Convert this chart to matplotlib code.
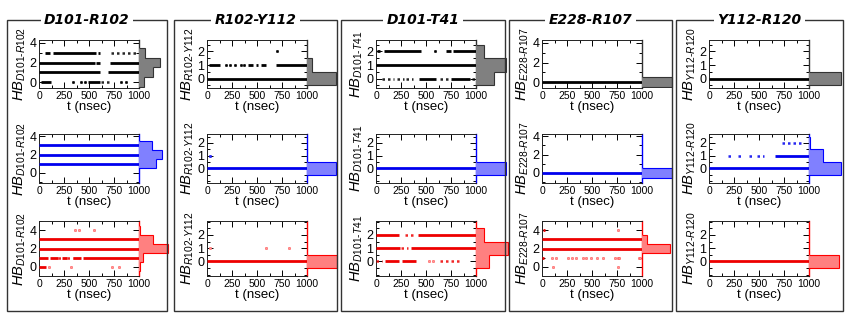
import matplotlib
matplotlib.use('Agg')
import matplotlib.pyplot as plt
from matplotlib.patches import Rectangle
from matplotlib.ticker import MultipleLocator

plt.rcParams['font.family'] = ['Liberation Sans', 'DejaVu Sans']
plt.rcParams['mathtext.fontset'] = 'custom'
plt.rcParams['mathtext.rm'] = 'Liberation Sans'
plt.rcParams['mathtext.it'] = 'Liberation Sans:italic'
plt.rcParams['mathtext.bf'] = 'Liberation Sans:bold'

# ---------------- data ----------------
pairs = ['D101-R102', 'R102-Y112', 'D101-T41', 'E228-R107', 'Y112-R120']
ytick_max = [4, 2, 2, 4, 2]
t_ticks = [0, 250, 500, 750, 1000]

# each panel: solid occupancy intervals (HB, t0, t1), sparse intervals, isolated points (t, HB),
# histogram of HB counts {HB: relative frequency}
D101_R102_black = dict(
    solid=[(3, 57, 107), (3, 140, 573), (3, 590, 610), (2, 0, 557), (2, 573, 607), (2, 707, 1000),
           (1, 0, 607), (1, 690, 1000), (0, 23, 123), (0, 490, 607)],
    sparse=[(3, 723, 990), (0, 620, 707)],
    points=[(340, 0), (423, 0), (460, 0), (823, 0), (873, 0)],
    hist={0: 0.17, 1: 0.47, 2: 0.70, 3: 0.20})
D101_R102_blue = dict(
    solid=[(1, 0, 1000), (2, 0, 1000), (3, 0, 1000)],
    sparse=[], points=[],
    hist={1: 0.57, 2: 0.77, 3: 0.43})
D101_R102_red = dict(
    solid=[(3, 0, 1000), (2, 0, 1000), (1, 0, 90), (1, 110, 190), (1, 230, 280), (1, 340, 420),
           (1, 440, 1000), (0, 0, 68)],
    sparse=[(1, 190, 230), (1, 280, 340)],
    points=[(356, 4), (400, 4), (553, 4), (100, 0), (315, 0), (729, 0), (797, 0)],
    hist={0: 0.03, 1: 0.13, 2: 0.97, 3: 0.47, 4: 0.03})

R102_Y112_black = dict(
    solid=[(0, 0, 1000), (1, 20, 127), (1, 410, 460), (1, 493, 510), (1, 543, 593), (1, 687, 1000)],
    sparse=[],
    points=[(193, 1), (227, 1), (277, 1), (343, 1), (367, 1), (700, 2)],
    hist={0: 0.97, 1: 0.15})
R102_Y112_blue = dict(
    solid=[(0, 0, 1000)], sparse=[], points=[(33, 1)],
    hist={0: 0.97})
R102_Y112_red = dict(
    solid=[(0, 0, 1000)], sparse=[], points=[(33, 1), (585, 1), (815, 1)],
    hist={0: 1.0})

D101_T41_black = dict(
    solid=[(2, 10, 44), (2, 78, 450), (2, 703, 750), (2, 765, 1000), (1, 0, 1000),
           (0, 432, 601), (0, 753, 939)],
    sparse=[(0, 61, 179), (0, 213, 280), (0, 297, 365), (0, 635, 736), (0, 955, 1000)],
    points=[(585, 2)],
    hist={0: 0.60, 1: 1.0, 2: 0.27})
D101_T41_blue = dict(
    solid=[(0, 0, 1000)], sparse=[], points=[],
    hist={0: 1.0})
D101_T41_red = dict(
    solid=[(2, 0, 230), (2, 415, 1000), (1, 0, 236), (1, 348, 1000), (0, 90, 230), (0, 263, 399)],
    sparse=[(2, 290, 400), (1, 250, 320), (0, 0, 60), (0, 635, 736), (0, 753, 855)],
    points=[(534, 0), (567, 0)],
    hist={0: 0.43, 1: 1.07, 2: 0.27})

E228_R107_black = dict(
    solid=[(0, 0, 1000)], sparse=[], points=[],
    hist={0: 1.0})
E228_R107_blue = dict(
    solid=[(0, 0, 1000)], sparse=[], points=[],
    hist={0: 1.0})
E228_R107_red = dict(
    solid=[(3, 0, 1000), (2, 0, 1000), (1, 0, 20), (4, 5, 25)],
    sparse=[],
    points=[(101, 1), (141, 1), (259, 1), (303, 1), (343, 1), (411, 1), (444, 1), (485, 1),
            (545, 1), (613, 1), (731, 1), (764, 1), (774, 1), (966, 1), (983, 1),
            (764, 4), (108, 0), (764, 0)],
    hist={2: 0.93, 3: 0.17})

Y112_R120_black = dict(
    solid=[(0, 0, 1000)], sparse=[], points=[],
    hist={0: 1.05})
Y112_R120_blue = dict(
    solid=[(0, 0, 1000), (1, 663, 1000)],
    sparse=[(1, 192, 242), (1, 293, 316), (1, 404, 428), (1, 478, 545), (2, 731, 949)],
    points=[],
    hist={0: 1.05, 1: 0.48, 2: 0.02})
Y112_R120_red = dict(
    solid=[(0, 0, 1000)], sparse=[], points=[],
    hist={0: 1.0})

panels = [
    [D101_R102_black, D101_R102_blue, D101_R102_red],
    [R102_Y112_black, R102_Y112_blue, R102_Y112_red],
    [D101_T41_black, D101_T41_blue, D101_T41_red],
    [E228_R107_black, E228_R107_blue, E228_R107_red],
    [Y112_R120_black, Y112_R120_blue, Y112_R120_red],
]

# ---------------- styling / layout ----------------
W, H = 847, 317
fig = plt.figure(figsize=(W / 100, H / 100), dpi=100)


def rect(x0, y0, w, h):
    return [x0 / W, 1 - (y0 + h) / H, w / W, h / H]


col_left = [39, 207, 376, 542, 709]
ax_w = 100
row_top = [40, 134, 221]
row_bot = [88, 183, 276]
boxes = [(7, 167), (174, 337), (341, 505), (509, 672), (676, 843)]
box_top, box_bot = 20, 311

line_col = ['#000000', '#0000ee', '#ee0000']
fill_col = ['#808080', '#8080ff', '#ff8080']
edge_col = ['#333333', '#0000ff', '#ff0000']
pt_face = ['#000000', '#3333ff', '#ff9999']
pt_edge = ['#000000', '#0000ee', '#ff5555']
ylims = {4: [(-0.6, 4.3), (-1.1, 4.25), (-1.0, 5.0)],
         2: [(-0.7, 2.85), (-1.15, 2.7), (-1.1, 3.05)]}

for c, pair in enumerate(pairs):
    bx0, bx1 = boxes[c]
    fig.add_artist(Rectangle((bx0 / W, 1 - box_bot / H), (bx1 - bx0) / W, (box_bot - box_top) / H,
                             transform=fig.transFigure, fill=False, edgecolor='#333333',
                             lw=1.0, zorder=1))
    fig.text((bx0 + bx1) / 2 / W, 1 - box_top / H, pair, ha='center', va='center',
             fontsize=10, fontweight='bold', fontstyle='italic', family='DejaVu Sans',
             zorder=5, bbox=dict(facecolor='white', edgecolor='none', pad=2.5))
    sub = pair.replace('-', r'\text{-}')
    for r in range(3):
        d = panels[c][r]
        top, bot = row_top[r], row_bot[r]
        ax = fig.add_axes(rect(col_left[c], top, ax_w, bot - top))
        axh = fig.add_axes(rect(col_left[c] + ax_w, top, 36, bot - top))
        for (v, t0, t1) in d['solid']:
            ax.hlines(v, t0, t1, color=line_col[r], lw=2.0, zorder=3)
        for (v, t0, t1) in d['sparse']:
            ax.hlines(v, t0, t1, color=line_col[r], lw=1.8, linestyles=(0, (1.0, 1.2)),
                      alpha=0.85, zorder=3)
        if d['points']:
            ts = [p[0] for p in d['points']]
            vs = [p[1] for p in d['points']]
            ax.scatter(ts, vs, s=3, facecolor=pt_face[r], edgecolor=pt_edge[r],
                       lw=0.4, zorder=4)
        ax.set_xlim(0, 1000)
        yl = ylims[ytick_max[c]][r]
        ax.set_ylim(*yl)
        ax.set_xticks(t_ticks)
        ax.xaxis.set_minor_locator(MultipleLocator(125))
        if ytick_max[c] == 4:
            ax.set_yticks([0, 2, 4])
            ax.yaxis.set_minor_locator(MultipleLocator(1))
        else:
            ax.set_yticks([0, 1, 2])
            ax.yaxis.set_minor_locator(MultipleLocator(0.5))
        ax.tick_params(which='both', direction='in', top=True, right=True, width=0.7)
        ax.tick_params(which='major', length=4)
        ax.tick_params(which='minor', length=2)
        ax.tick_params(axis='x', labelsize=7.5, pad=2)
        ax.tick_params(axis='y', labelsize=9, pad=2)
        for s in ax.spines.values():
            s.set_linewidth(0.7)
            s.set_color('#222222')
        ax.spines['right'].set_color(edge_col[r])
        ax.spines['right'].set_linewidth(1.0)
        ax.set_xlabel('t (nsec)', fontsize=9.5, labelpad=0)
        ax.set_ylabel(r'$HB_{' + sub + '}$', fontsize=10.5, labelpad=1)

        keys = sorted(d['hist'])
        kmin, kmax = keys[0], keys[-1]
        vals = [d['hist'].get(k, 0) for k in range(kmin, kmax + 1)]
        edges = [k - 0.5 for k in range(kmin, kmax + 2)]
        axh.stairs(vals, edges, orientation='horizontal', baseline=0, fill=True,
                   facecolor=fill_col[r], edgecolor='none')
        axh.stairs(vals, edges, orientation='horizontal', baseline=0, fill=False,
                   color=edge_col[r], lw=0.8)
        axh.set_xlim(0, 1.2)
        axh.set_ylim(*yl)
        axh.axis('off')

fig.savefig('out.png', dpi=100, facecolor='white')
